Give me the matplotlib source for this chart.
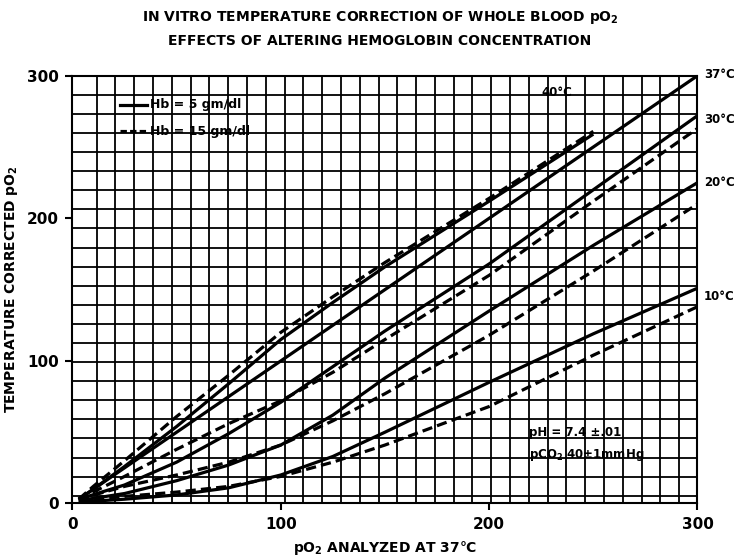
import numpy as np
import matplotlib
matplotlib.use("Agg")
import matplotlib.pyplot as plt

# pO2 analyzed at 37 C (x) and temperature corrected pO2 (y)
x_37 = [3, 300]
y_37 = [3, 300]

x_40 = [3, 10, 25, 50, 75, 100, 125, 150, 200, 250]
y_40_hb5 = [3, 10, 26, 54, 84, 115, 141, 166, 212, 259]
y_40_hb15 = [3, 12, 30, 61, 90, 120, 145, 169, 214, 261]

x_low = [3, 25, 50, 75, 100, 125, 150, 200, 250, 300]
y_30_hb5 = [3, 13, 29, 49, 71, 96, 121, 168, 220, 272]
y_30_hb15 = [3, 19, 38, 56, 72, 92, 115, 160, 212, 263]
y_20_hb5 = [2, 7, 16, 27, 41, 62, 88, 135, 181, 225]
y_20_hb15 = [3, 12, 20, 29, 41, 58, 77, 118, 163, 210]
y_10_hb5 = [1, 3, 6, 11, 20, 33, 50, 85, 119, 151]
y_10_hb15 = [2, 5, 8, 12, 19, 29, 41, 68, 104, 138]

ticks = [0, 100, 200, 300]

plt.rcParams["font.family"] = "DejaVu Sans"
plt.rcParams["font.weight"] = "bold"

fig = plt.figure(figsize=(7.38, 5.6), dpi=100)
ax = fig.add_axes([0.0982, 0.1009, 0.8469, 0.7639])
ax.set_xlim(0, 300)
ax.set_ylim(0, 300)

# graph paper grid (not aligned with the data ticks)
for gx in np.arange(11.6, 295, 9.02):
    ax.axvline(gx, color="black", lw=1.3, zorder=1)
for gy in np.arange(300 - 13.39, 3, -13.39):
    ax.axhline(gy, color="black", lw=1.3, zorder=1)

solid = dict(color="black", lw=2.3, solid_capstyle="butt", zorder=3)
dashed = dict(color="black", lw=2.3, dashes=(3.2, 1.6), zorder=3)

ax.plot(x_37, y_37, **solid)
ax.plot(x_40, y_40_hb5, **solid)
ax.plot(x_40, y_40_hb15, **dashed)
ax.plot(x_low, y_30_hb5, **solid)
ax.plot(x_low, y_30_hb15, **dashed)
ax.plot(x_low, y_20_hb5, **solid)
ax.plot(x_low, y_20_hb15, **dashed)
ax.plot(x_low, y_10_hb5, **solid)
ax.plot(x_low, y_10_hb15, **dashed)

for s in ax.spines.values():
    s.set_linewidth(1.5)
ax.set_xticks(ticks)
ax.set_yticks(ticks)
ax.tick_params(direction="out", length=5, width=1.5, labelsize=11, pad=5)

# legend written onto the grid
ax.plot([23, 36], [279.5, 279.5], color="black", lw=2.3)
ax.plot([23, 36], [261, 261], color="black", lw=2.3, dashes=(2, 1))
ax.text(37, 279.5, "Hb = 5 gm/dl", fontsize=9, va="center", fontweight="bold")
ax.text(37, 261, "Hb = 15 gm/dl", fontsize=9, va="center", fontweight="bold")

# curve labels
ax.text(225, 288.5, "40°C", fontsize=8.5, va="center", fontweight="bold")
label_y = {"37°C": 301, "30°C": 269, "20°C": 225, "10°C": 145}
for lab, yy in label_y.items():
    ax.text(303, yy, lab, fontsize=8.5, fontweight="bold", va="center")

ax.text(219, 50, "pH = 7.4 ±.01", fontsize=8.5, va="center", fontweight="bold")
ax.text(219, 34, "pCO$_2$ 40±1mmHg", fontsize=8.5, va="center", fontweight="bold")

fig.text(0.515, 0.968, "IN VITRO TEMPERATURE CORRECTION OF WHOLE BLOOD pO$_2$",
         ha="center", va="center", fontsize=10, fontweight="bold")
fig.text(0.515, 0.926, "EFFECTS OF ALTERING HEMOGLOBIN CONCENTRATION",
         ha="center", va="center", fontsize=10, fontweight="bold")
ax.set_xlabel("pO$_2$ ANALYZED AT 37°C", fontsize=10, fontweight="bold", labelpad=5)
ax.set_ylabel("TEMPERATURE CORRECTED pO$_2$", fontsize=10, fontweight="bold", labelpad=5)

fig.savefig("out.png", dpi=100)
